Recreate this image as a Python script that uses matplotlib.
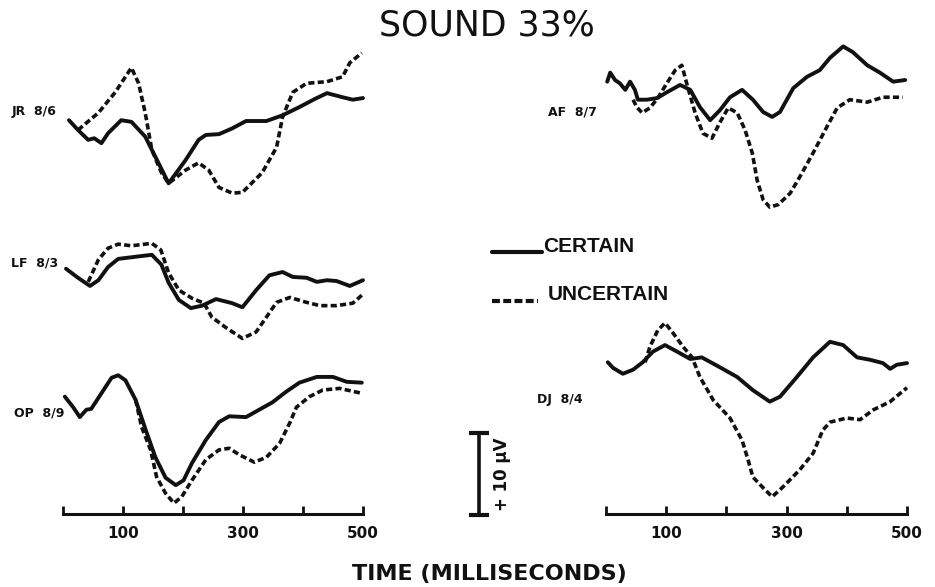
import matplotlib.pyplot as plt

W, H, DPI = 935, 587, 100
PX_PER_UV = 8.2  # 10 uV scale bar is ~82 px tall

# time (ms) and amplitude (uV, positive plotted downward) per subject
JR_T_CERTAIN = [10, 25, 42, 52, 64, 75, 97, 114, 137, 159, 176, 204, 226, 238, 260, 282, 305, 339, 366, 394, 420, 440, 466, 483, 500]
JR_CERTAIN = [1.0, 2.2, 3.4, 3.2, 3.8, 2.6, 1.0, 1.2, 3.0, 6.2, 8.7, 5.9, 3.4, 2.8, 2.7, 2.0, 1.1, 1.1, 0.4, -0.6, -1.6, -2.3, -1.8, -1.5, -1.7]
JR_T_UNCERTAIN = [25, 59, 87, 114, 126, 137, 148, 164, 176, 204, 226, 243, 260, 282, 299, 332, 356, 366, 383, 406, 440, 466, 478, 498]
JR_UNCERTAIN = [2.2, 0.1, -2.4, -5.4, -3.5, 0.1, 4.6, 7.4, 8.7, 7.1, 6.2, 7.1, 9.2, 9.9, 9.8, 7.4, 4.3, 0.6, -2.4, -3.5, -3.7, -4.3, -6.0, -7.2]

LF_T_CERTAIN = [5, 25, 45, 59, 75, 92, 114, 148, 164, 176, 193, 213, 232, 255, 282, 299, 322, 344, 366, 383, 406, 423, 440, 456, 478, 500]
LF_CERTAIN = [0.7, 1.8, 2.8, 2.1, 0.5, -0.5, -0.7, -1.0, 0.2, 2.4, 4.5, 5.5, 5.2, 4.4, 4.9, 5.4, 3.3, 1.5, 1.1, 1.7, 1.8, 2.3, 2.1, 2.2, 2.8, 2.1]
LF_T_UNCERTAIN = [42, 59, 75, 92, 114, 148, 163, 176, 193, 215, 235, 248, 272, 299, 322, 339, 356, 378, 406, 428, 456, 483, 500]
LF_UNCERTAIN = [2.3, -0.4, -1.8, -2.3, -2.1, -2.4, -1.6, 1.2, 3.3, 4.3, 4.9, 6.6, 7.9, 9.2, 8.4, 6.6, 4.8, 4.2, 4.8, 5.2, 5.2, 4.9, 3.8]

OP_T_CERTAIN = [3, 17, 28, 39, 47, 64, 81, 92, 104, 121, 138, 154, 171, 188, 201, 215, 238, 260, 277, 305, 327, 349, 372, 394, 423, 450, 473, 498]
OP_CERTAIN = [-2.0, -0.7, 0.5, -0.4, -0.5, -2.4, -4.3, -4.6, -4.0, -1.6, 2.1, 5.4, 7.9, 8.8, 8.2, 6.1, 3.3, 1.1, 0.4, 0.5, -0.4, -1.3, -2.6, -3.7, -4.4, -4.4, -3.8, -3.7]
OP_T_UNCERTAIN = [121, 131, 146, 156, 171, 185, 198, 215, 238, 260, 277, 294, 319, 339, 361, 378, 389, 411, 433, 461, 498]
OP_UNCERTAIN = [-1.6, 1.7, 4.5, 7.8, 9.8, 11.0, 10.2, 8.2, 5.7, 4.5, 4.3, 5.1, 6.0, 5.4, 3.7, 1.2, -0.7, -2.0, -2.8, -3.0, -2.4]

AF_T_CERTAIN = [2, 7, 15, 23, 32, 40, 48, 53, 68, 85, 101, 123, 140, 156, 173, 189, 206, 226, 244, 261, 276, 289, 311, 334, 355, 372, 394, 410, 434, 455, 477, 497]
AF_CERTAIN = [-3.7, -4.8, -3.9, -3.5, -2.7, -3.7, -2.7, -1.5, -1.5, -1.7, -2.4, -3.3, -2.7, -0.6, 1.0, -0.2, -1.8, -2.7, -1.5, 0.0, 0.6, 0.0, -2.9, -4.3, -5.1, -6.6, -8.0, -7.3, -5.7, -4.8, -3.7, -3.9]
AF_T_UNCERTAIN = [45, 51, 60, 73, 86, 101, 115, 126, 134, 148, 161, 176, 189, 203, 218, 231, 243, 251, 261, 272, 286, 306, 322, 344, 367, 384, 405, 434, 460, 493]
AF_UNCERTAIN = [-1.5, -0.6, 0.1, -0.5, -1.7, -3.5, -5.1, -5.7, -3.5, 0.1, 2.6, 3.2, 1.3, -0.5, 0.1, 2.2, 5.0, 8.3, 10.7, 11.6, 11.3, 9.9, 7.9, 5.0, 1.8, -0.5, -1.5, -1.2, -1.8, -1.8]

DJ_T_CERTAIN = [3, 12, 28, 45, 61, 78, 98, 118, 140, 159, 189, 218, 244, 272, 289, 317, 344, 372, 394, 417, 439, 460, 472, 483, 500]
DJ_CERTAIN = [-4.6, -3.9, -3.2, -3.7, -4.6, -5.9, -6.7, -5.9, -5.0, -5.2, -4.0, -2.8, -1.2, 0.2, -0.4, -2.8, -5.2, -7.1, -6.7, -5.2, -4.9, -4.5, -3.8, -4.3, -4.5]
DJ_T_UNCERTAIN = [65, 73, 86, 98, 111, 128, 143, 156, 178, 206, 226, 236, 244, 261, 276, 294, 322, 344, 360, 372, 400, 422, 444, 472, 500]
DJ_UNCERTAIN = [-4.6, -6.5, -8.5, -9.4, -8.2, -6.5, -5.2, -2.8, 0.0, 2.2, 4.9, 7.3, 9.4, 10.7, 11.8, 10.6, 8.5, 6.5, 3.7, 2.7, 2.2, 2.4, 1.2, 0.2, -1.5]

TICKS = [0, 100, 200, 300, 400, 500]
TICK_LABELS = ["", "100", "", "300", "", "500"]

INK = "#111111"
LEGEND_FONT = ["Liberation Sans", "DejaVu Sans"]

fig = plt.figure(figsize=(W / DPI, H / DPI), dpi=DPI)
fig.patch.set_facecolor("white")

axis_y = 513.5  # pixel row of the time axes
ymax = axis_y / PX_PER_UV


def make_axes(x0, x1):
    ax = fig.add_axes([x0 / W, (H - axis_y) / H, (x1 - x0) / W, axis_y / H])
    ax.set_xlim(0, 500)
    ax.set_ylim(ymax, 0)
    ax.patch.set_alpha(0)
    for s in ["top", "left", "right"]:
        ax.spines[s].set_visible(False)
    ax.spines["bottom"].set_linewidth(2.2)
    ax.spines["bottom"].set_color(INK)
    ax.set_yticks([])
    ax.set_xticks(TICKS)
    ax.set_xticklabels(TICK_LABELS, fontsize=11, fontweight="bold", color=INK)
    ax.tick_params(axis="x", direction="in", length=6, width=2, pad=9, colors=INK)
    return ax


ax_l = make_axes(63, 363)
ax_r = make_axes(606, 907)

# (label, axes, baseline row px, label x px, certain, uncertain)
panels = [
    ("JR  8/6", ax_l, 112, 12, (JR_T_CERTAIN, JR_CERTAIN), (JR_T_UNCERTAIN, JR_UNCERTAIN)),
    ("LF  8/3", ax_l, 263, 11, (LF_T_CERTAIN, LF_CERTAIN), (LF_T_UNCERTAIN, LF_UNCERTAIN)),
    ("OP  8/9", ax_l, 413, 14, (OP_T_CERTAIN, OP_CERTAIN), (OP_T_UNCERTAIN, OP_UNCERTAIN)),
    ("AF  8/7", ax_r, 112, 548, (AF_T_CERTAIN, AF_CERTAIN), (AF_T_UNCERTAIN, AF_UNCERTAIN)),
    ("DJ  8/4", ax_r, 400, 537, (DJ_T_CERTAIN, DJ_CERTAIN), (DJ_T_UNCERTAIN, DJ_UNCERTAIN)),
]

for label, ax, base_px, lab_x, cert, unc in panels:
    base = base_px / PX_PER_UV
    ax.plot(cert[0], [base + v for v in cert[1]], color=INK, lw=2.8,
            solid_capstyle="round", solid_joinstyle="round", clip_on=False)
    ax.plot(unc[0], [base + v for v in unc[1]], color=INK, lw=2.6,
            linestyle=(0, (1.7, 0.9)), clip_on=False)
    fig.text(lab_x / W, 1 - base_px / H, label, fontsize=9, fontweight="bold",
             color=INK, ha="left", va="center")

# 10 uV calibration bar (positive down)
bar_t = (479 - 63) / 0.6
bar_bottom = 515 / PX_PER_UV
ax_l.plot([bar_t, bar_t], [bar_bottom - 10, bar_bottom], color=INK, lw=2.6,
          marker="_", markersize=14, markeredgewidth=3, clip_on=False)
ax_l.text((502 - 63) / 0.6, bar_bottom - 5, "+ 10 \u03bcV", rotation=90,
          fontsize=12, fontweight="bold", color=INK, ha="center", va="center",
          clip_on=False)

# legend
fig.add_artist(plt.Line2D([492 / W, 542 / W], [1 - 252 / H] * 2, transform=fig.transFigure,
                          color=INK, lw=3, solid_capstyle="round"))
fig.add_artist(plt.Line2D([492 / W, 538 / W], [1 - 301 / H] * 2, transform=fig.transFigure,
                          color=INK, lw=3, linestyle=(0, (1.9, 0.8))))
fig.text(543 / W, 1 - 246.5 / H, "CERTAIN", family=LEGEND_FONT, fontsize=15,
         fontweight="bold", color=INK, ha="left", va="center")
fig.text(548 / W, 1 - 294.5 / H, "UNCERTAIN", family=LEGEND_FONT, fontsize=15,
         fontweight="bold", color=INK, ha="left", va="center")

fig.text(487 / W, 1 - 26 / H, "SOUND 33%", fontsize=25, color=INK,
         ha="center", va="center")
fig.text(489 / W, 1 - 574 / H, "TIME (MILLISECONDS)", fontsize=16,
         fontweight="bold", color=INK, ha="center", va="center")

fig.savefig("out.png", dpi=DPI, facecolor="white")
plt.close(fig)
